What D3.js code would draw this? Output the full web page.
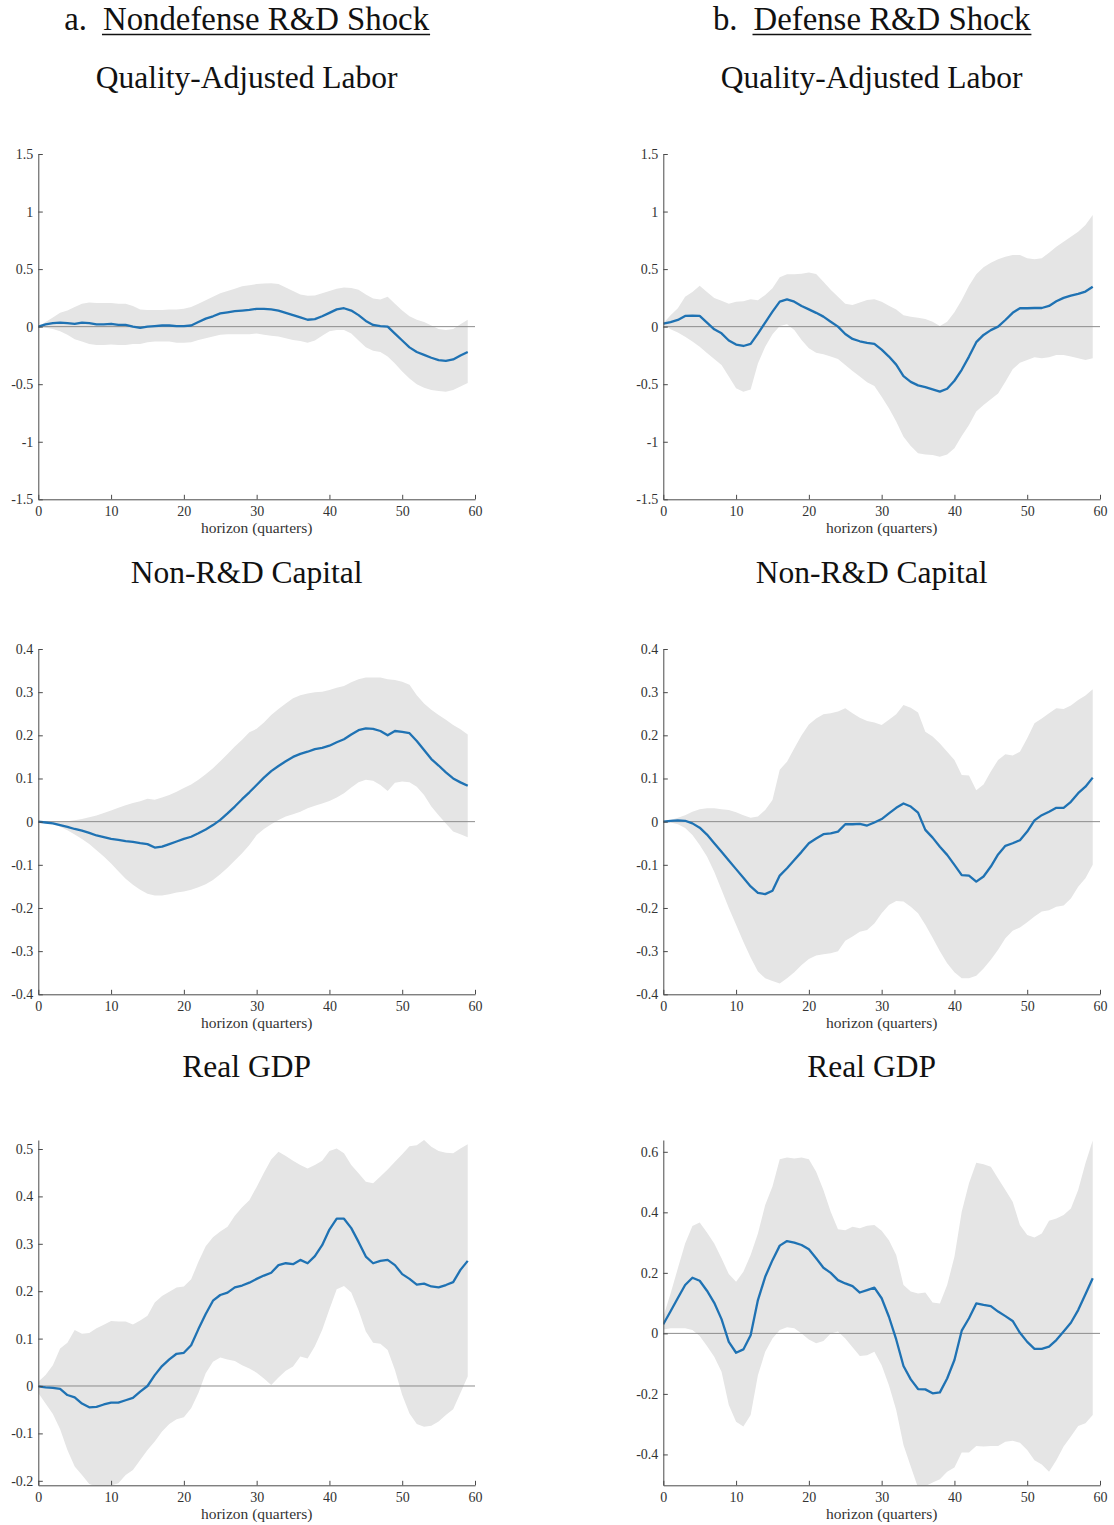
<!DOCTYPE html>
<html>
<head>
<meta charset="utf-8">
<script src="https://cdn.jsdelivr.net/npm/d3@7"></script>
<style>
  body { margin: 0; background: #fff; }
</style>
</head>
<body>
<svg id="fig" width="1114" height="1525"></svg>
<script>
// horizon (quarters)
var quarters = [0,1,2,3,4,5,6,7,8,9,10,11,12,13,14,15,16,17,18,19,20,21,22,23,24,25,26,27,28,29,
  30,31,32,33,34,35,36,37,38,39,40,41,42,43,44,45,46,47,48,49,50,51,52,53,54,55,56,57,58,59];

// a. nondefense -- quality-adjusted labor
var ndLaborMean = [0,0.02,0.03,0.035,0.03,0.025,0.035,0.03,0.02,0.02,
  0.025,0.015,0.015,0,-0.01,0,0.005,0.01,0.01,0.005,
  0.005,0.01,0.04,0.07,0.09,0.115,0.125,0.135,0.14,0.145,
  0.155,0.155,0.15,0.14,0.12,0.10,0.08,0.06,0.065,0.09,
  0.12,0.15,0.16,0.14,0.10,0.05,0.015,0.005,0,-0.06,
  -0.12,-0.18,-0.22,-0.245,-0.27,-0.29,-0.298,-0.285,-0.25,-0.22];
var ndLaborHi = [0,0.04,0.08,0.12,0.14,0.17,0.2,0.21,0.205,0.205,
  0.205,0.2,0.2,0.18,0.15,0.145,0.145,0.145,0.15,0.15,
  0.155,0.17,0.2,0.23,0.26,0.29,0.31,0.33,0.35,0.36,
  0.37,0.375,0.378,0.37,0.34,0.31,0.28,0.268,0.27,0.29,
  0.31,0.33,0.34,0.335,0.32,0.28,0.245,0.235,0.26,0.2,
  0.14,0.09,0.06,0.04,0.01,-0.02,-0.03,-0.02,0.02,0.06];
var ndLaborLo = [0,-0.01,-0.02,-0.04,-0.07,-0.11,-0.13,-0.15,-0.16,-0.16,
  -0.155,-0.16,-0.16,-0.15,-0.15,-0.135,-0.13,-0.13,-0.13,-0.14,
  -0.14,-0.135,-0.115,-0.1,-0.085,-0.07,-0.065,-0.065,-0.065,-0.065,
  -0.06,-0.07,-0.08,-0.085,-0.1,-0.115,-0.125,-0.14,-0.12,-0.08,
  -0.04,-0.03,-0.03,-0.06,-0.12,-0.18,-0.21,-0.22,-0.26,-0.32,
  -0.39,-0.45,-0.5,-0.53,-0.55,-0.56,-0.565,-0.55,-0.52,-0.49];

// b. defense -- quality-adjusted labor
var dfLaborMean = [0.026,0.04,0.058,0.093,0.095,0.093,0.035,-0.023,-0.058,-0.12,
  -0.156,-0.168,-0.15,-0.06,0.035,0.13,0.217,0.237,0.217,0.18,
  0.15,0.12,0.087,0.043,0,-0.064,-0.107,-0.127,-0.14,-0.15,
  -0.2,-0.26,-0.33,-0.43,-0.48,-0.51,-0.525,-0.545,-0.565,-0.54,
  -0.47,-0.375,-0.26,-0.135,-0.072,-0.03,0,0.058,0.12,0.16,
  0.16,0.162,0.162,0.18,0.22,0.25,0.27,0.285,0.305,0.347];
var dfLaborHi = [0.03,0.1,0.16,0.26,0.3,0.356,0.3,0.25,0.226,0.2,
  0.217,0.22,0.237,0.23,0.275,0.333,0.43,0.455,0.455,0.46,
  0.47,0.457,0.39,0.32,0.26,0.2,0.188,0.21,0.232,0.237,
  0.217,0.182,0.15,0.1,0.087,0.078,0.067,0.043,0.006,0.043,
  0.125,0.232,0.356,0.455,0.515,0.556,0.585,0.608,0.622,0.622,
  0.594,0.585,0.594,0.643,0.695,0.738,0.78,0.825,0.883,0.97];
var dfLaborLo = [0.02,-0.023,-0.05,-0.087,-0.13,-0.174,-0.23,-0.28,-0.333,-0.434,
  -0.536,-0.565,-0.545,-0.32,-0.174,-0.067,0.006,0.02,-0.029,-0.116,
  -0.188,-0.226,-0.24,-0.26,-0.28,-0.333,-0.385,-0.434,-0.484,-0.515,
  -0.608,-0.71,-0.825,-0.956,-1.037,-1.1,-1.11,-1.115,-1.13,-1.11,
  -1.057,-0.95,-0.854,-0.738,-0.68,-0.63,-0.58,-0.478,-0.37,-0.313,
  -0.29,-0.266,-0.275,-0.266,-0.246,-0.246,-0.26,-0.275,-0.29,-0.275];

// a. nondefense -- non-R&D capital
var ndCapMean = [0,-0.002,-0.004,-0.008,-0.012,-0.017,-0.021,-0.026,-0.032,-0.036,
  -0.04,-0.042,-0.045,-0.047,-0.05,-0.052,-0.06,-0.058,-0.052,-0.046,
  -0.04,-0.035,-0.027,-0.018,-0.008,0.004,0.019,0.035,0.052,0.068,
  0.085,0.102,0.117,0.129,0.14,0.15,0.157,0.162,0.168,0.171,
  0.176,0.184,0.191,0.202,0.212,0.216,0.215,0.21,0.2,0.21,
  0.208,0.205,0.187,0.166,0.145,0.13,0.114,0.1,0.091,0.083];
var ndCapHi = [0,0,0,0,0.001,0.003,0.006,0.01,0.014,0.02,
  0.026,0.032,0.038,0.043,0.047,0.053,0.051,0.056,0.062,0.069,
  0.078,0.086,0.097,0.11,0.124,0.14,0.157,0.174,0.19,0.207,
  0.215,0.23,0.247,0.261,0.274,0.286,0.293,0.297,0.3,0.301,
  0.305,0.31,0.314,0.323,0.33,0.334,0.334,0.334,0.33,0.328,
  0.324,0.317,0.293,0.274,0.259,0.247,0.236,0.224,0.214,0.202];
var ndCapLo = [0,-0.002,-0.005,-0.012,-0.02,-0.03,-0.04,-0.052,-0.066,-0.081,
  -0.097,-0.115,-0.132,-0.146,-0.158,-0.167,-0.171,-0.171,-0.168,-0.164,
  -0.162,-0.158,-0.152,-0.145,-0.135,-0.122,-0.107,-0.09,-0.073,-0.054,
  -0.031,-0.017,-0.006,0.004,0.012,0.017,0.023,0.031,0.037,0.042,
  0.048,0.056,0.066,0.079,0.091,0.097,0.095,0.085,0.071,0.09,
  0.093,0.091,0.081,0.062,0.035,0.015,-0.004,-0.023,-0.029,-0.036];

// b. defense -- non-R&D capital
var dfCapMean = [0,0.002,0.003,0.002,-0.004,-0.014,-0.03,-0.05,-0.07,-0.09,
  -0.11,-0.13,-0.15,-0.165,-0.168,-0.16,-0.125,-0.108,-0.089,-0.07,
  -0.05,-0.039,-0.029,-0.027,-0.023,-0.006,-0.006,-0.005,-0.009,-0.002,
  0.006,0.019,0.032,0.042,0.035,0.021,-0.019,-0.037,-0.058,-0.077,
  -0.1,-0.124,-0.125,-0.139,-0.127,-0.104,-0.076,-0.056,-0.05,-0.043,
  -0.023,0.003,0.015,0.023,0.032,0.032,0.046,0.066,0.081,0.102];
var dfCapHi = [0,0.004,0.009,0.015,0.023,0.029,0.031,0.031,0.029,0.027,
  0.022,0.015,0.009,0.012,0.027,0.05,0.12,0.139,0.17,0.2,
  0.225,0.239,0.249,0.251,0.255,0.263,0.251,0.241,0.233,0.23,
  0.224,0.236,0.249,0.27,0.264,0.253,0.208,0.197,0.181,0.162,
  0.143,0.108,0.107,0.073,0.086,0.116,0.143,0.156,0.153,0.162,
  0.193,0.228,0.239,0.251,0.263,0.261,0.269,0.282,0.292,0.307];
var dfCapLo = [0,-0.002,-0.006,-0.015,-0.031,-0.054,-0.081,-0.116,-0.158,-0.2,
  -0.239,-0.278,-0.315,-0.347,-0.363,-0.369,-0.375,-0.363,-0.349,-0.332,
  -0.318,-0.31,-0.307,-0.305,-0.3,-0.276,-0.266,-0.255,-0.251,-0.236,
  -0.212,-0.193,-0.184,-0.185,-0.197,-0.212,-0.239,-0.269,-0.3,-0.328,
  -0.349,-0.363,-0.363,-0.357,-0.34,-0.32,-0.297,-0.27,-0.253,-0.245,
  -0.233,-0.22,-0.208,-0.205,-0.197,-0.194,-0.178,-0.151,-0.131,-0.1];

// a. nondefense -- real GDP
var ndGdpMean = [-0.001,-0.003,-0.004,-0.006,-0.019,-0.024,-0.037,-0.045,-0.044,-0.039,
  -0.035,-0.035,-0.03,-0.025,-0.012,0,0.023,0.042,0.056,0.068,
  0.07,0.086,0.12,0.152,0.18,0.192,0.197,0.208,0.212,0.218,
  0.226,0.233,0.239,0.255,0.259,0.257,0.266,0.259,0.274,0.297,
  0.33,0.353,0.353,0.333,0.304,0.273,0.259,0.264,0.266,0.255,
  0.236,0.226,0.214,0.216,0.21,0.208,0.213,0.219,0.245,0.264];
var ndGdpHi = [0.009,0.023,0.044,0.079,0.091,0.118,0.11,0.112,0.122,0.129,
  0.137,0.136,0.136,0.13,0.138,0.148,0.176,0.19,0.199,0.208,
  0.21,0.225,0.262,0.295,0.314,0.326,0.336,0.359,0.377,0.392,
  0.42,0.45,0.478,0.494,0.485,0.475,0.466,0.459,0.466,0.475,
  0.496,0.501,0.491,0.466,0.449,0.431,0.428,0.442,0.457,0.473,
  0.489,0.506,0.508,0.519,0.505,0.496,0.492,0.491,0.501,0.51];
var ndGdpLo = [-0.015,-0.037,-0.059,-0.091,-0.135,-0.17,-0.188,-0.207,-0.212,-0.212,
  -0.21,-0.205,-0.188,-0.177,-0.156,-0.135,-0.117,-0.096,-0.08,-0.07,
  -0.066,-0.047,-0.015,0.027,0.051,0.06,0.056,0.053,0.044,0.037,
  0.028,0.016,0.002,0.018,0.032,0.041,0.062,0.058,0.084,0.118,
  0.162,0.204,0.211,0.197,0.16,0.115,0.091,0.089,0.076,0.034,
  -0.019,-0.058,-0.08,-0.086,-0.084,-0.075,-0.061,-0.049,-0.015,0.02];

// b. defense -- real GDP
var dfGdpMean = [0.03,0.073,0.117,0.16,0.184,0.174,0.141,0.101,0.047,-0.028,
  -0.064,-0.053,-0.006,0.11,0.187,0.242,0.29,0.305,0.3,0.292,
  0.278,0.248,0.217,0.2,0.176,0.165,0.156,0.135,0.143,0.151,
  0.116,0.055,-0.02,-0.108,-0.152,-0.184,-0.185,-0.198,-0.195,-0.149,
  -0.088,0.009,0.05,0.099,0.094,0.09,0.072,0.057,0.041,0.002,
  -0.028,-0.051,-0.051,-0.044,-0.022,0.006,0.035,0.077,0.129,0.182];
var dfGdpHi = [0.055,0.132,0.215,0.297,0.355,0.366,0.333,0.297,0.248,0.196,
  0.171,0.204,0.259,0.33,0.424,0.485,0.575,0.581,0.578,0.581,
  0.575,0.534,0.474,0.402,0.344,0.341,0.352,0.347,0.356,0.358,
  0.339,0.308,0.259,0.16,0.138,0.132,0.135,0.102,0.099,0.16,
  0.253,0.402,0.496,0.564,0.559,0.551,0.512,0.474,0.435,0.358,
  0.325,0.317,0.33,0.372,0.38,0.391,0.413,0.474,0.562,0.637];
var dfGdpLo = [0.013,0.017,0.017,0.017,0.011,-0.009,-0.042,-0.077,-0.127,-0.237,
  -0.292,-0.308,-0.27,-0.138,-0.061,-0.017,0.011,0.02,0.017,0,
  -0.02,-0.033,-0.025,0,0.006,-0.017,-0.046,-0.075,-0.072,-0.061,
  -0.105,-0.171,-0.253,-0.369,-0.44,-0.51,-0.505,-0.493,-0.482,-0.457,
  -0.443,-0.394,-0.394,-0.372,-0.374,-0.372,-0.372,-0.358,-0.355,-0.361,
  -0.385,-0.419,-0.433,-0.457,-0.419,-0.374,-0.341,-0.306,-0.297,-0.27];

// axis ticks
var xTicks = [0,10,20,30,40,50,60];
var laborTicks = [1.5,1,0.5,0,-0.5,-1,-1.5];
var laborTickLabels = ["1.5","1","0.5","0","-0.5","-1","-1.5"];
var capTicks = [0.4,0.3,0.2,0.1,0,-0.1,-0.2,-0.3,-0.4];
var capTickLabels = ["0.4","0.3","0.2","0.1","0","-0.1","-0.2","-0.3","-0.4"];
var ndGdpTicks = [0.5,0.4,0.3,0.2,0.1,0,-0.1,-0.2];
var ndGdpTickLabels = ["0.5","0.4","0.3","0.2","0.1","0","-0.1","-0.2"];
var dfGdpTicks = [0.6,0.4,0.2,0,-0.2,-0.4];
var dfGdpTickLabels = ["0.6","0.4","0.2","0","-0.2","-0.4"];

var headers = [["a.", "Nondefense R&D Shock"], ["b.", "Defense R&D Shock"]];
var rowTitles = ["Quality-Adjusted Labor", "Non-R&D Capital", "Real GDP"];

var SERIF = '"Liberation Serif", "Times New Roman", serif';

// layout
var colX = [38.3, 663.3];
var plotW = 436.7;
var plotH = 345.3;
var rowY = [154, 649, 1140];
var titleY = [88, 583, 1077];

var svg = d3.select("#fig");
svg.append("rect").attr("width", 1114).attr("height", 1525).attr("fill", "#fff");

var panels = [
  {row: 0, col: 0, mean: ndLaborMean, lo: ndLaborLo, hi: ndLaborHi, dom: [-1.5, 1.5], ticks: laborTicks, labels: laborTickLabels},
  {row: 0, col: 1, mean: dfLaborMean, lo: dfLaborLo, hi: dfLaborHi, dom: [-1.5, 1.5], ticks: laborTicks, labels: laborTickLabels},
  {row: 1, col: 0, mean: ndCapMean, lo: ndCapLo, hi: ndCapHi, dom: [-0.4, 0.4], ticks: capTicks, labels: capTickLabels},
  {row: 1, col: 1, mean: dfCapMean, lo: dfCapLo, hi: dfCapHi, dom: [-0.4, 0.4], ticks: capTicks, labels: capTickLabels},
  {row: 2, col: 0, mean: ndGdpMean, lo: ndGdpLo, hi: ndGdpHi, dom: [-0.2095, 0.519], ticks: ndGdpTicks, labels: ndGdpTickLabels},
  {row: 2, col: 1, mean: dfGdpMean, lo: dfGdpLo, hi: dfGdpHi, dom: [-0.502, 0.639], ticks: dfGdpTicks, labels: dfGdpTickLabels}
];

function drawPanel(p, k) {
  var g = svg.append("g")
    .attr("transform", "translate(" + colX[p.col] + "," + rowY[p.row] + ")");
  var x = d3.scaleLinear().domain([0, 60]).range([0, plotW]);
  var y = d3.scaleLinear().domain(p.dom).range([plotH, 0]);

  g.append("clipPath").attr("id", "clip" + k)
    .append("rect").attr("width", plotW).attr("height", plotH);

  var area = d3.area()
    .x(function(d, i) { return x(quarters[i]); })
    .y0(function(d, i) { return y(p.lo[i]); })
    .y1(function(d, i) { return y(p.hi[i]); });
  var line = d3.line()
    .x(function(d, i) { return x(quarters[i]); })
    .y(function(d) { return y(d); });

  var inner = g.append("g").attr("clip-path", "url(#clip" + k + ")");
  inner.append("path").datum(p.mean).attr("d", area).attr("fill", "#e5e5e5");
  inner.append("line")
    .attr("x1", x(0)).attr("x2", x(60))
    .attr("y1", y(0)).attr("y2", y(0))
    .attr("stroke", "#8c8c8c").attr("stroke-width", 1);
  inner.append("path").datum(p.mean).attr("d", line)
    .attr("fill", "none").attr("stroke", "#1f72b3")
    .attr("stroke-width", 2.3).attr("stroke-linejoin", "round");

  var ax = g.append("g").attr("transform", "translate(0," + plotH + ")")
    .call(d3.axisBottom(x).tickValues(xTicks).tickFormat(d3.format("d"))
      .tickSizeInner(-4.5).tickSizeOuter(0).tickPadding(7));
  var ay = g.append("g")
    .call(d3.axisLeft(y).tickValues(p.ticks)
      .tickFormat(function(d, i) { return p.labels[i]; })
      .tickSizeInner(-4.5).tickSizeOuter(0).tickPadding(5));
  [ax, ay].forEach(function(a) {
    a.attr("font-family", null).attr("font-size", null);
    a.selectAll("path, line").attr("stroke", "#4a4a4a").attr("stroke-width", 1);
    a.selectAll("text").attr("fill", "#333")
      .style("font-family", SERIF).style("font-size", "14px");
  });

  g.append("text")
    .attr("x", plotW / 2).attr("y", plotH + 34)
    .attr("text-anchor", "middle")
    .attr("fill", "#333")
    .style("font-family", SERIF).style("font-size", "15.5px")
    .text("horizon (quarters)");
}

panels.forEach(drawPanel);

// row titles
rowTitles.forEach(function(t, r) {
  colX.forEach(function(cx) {
    svg.append("text")
      .attr("x", cx + plotW / 2 - 10).attr("y", titleY[r])
      .attr("text-anchor", "middle").attr("fill", "#111")
      .style("font-family", SERIF).style("font-size", "31.5px").text(t);
  });
});

// column headers: "a." + underlined shock name
headers.forEach(function(h, c) {
  var center = colX[c] + plotW / 2 - 10;
  var gap = 16;
  var t1 = svg.append("text").attr("y", 30).attr("fill", "#111")
    .style("font-family", SERIF).style("font-size", "32.8px").text(h[0]);
  var t2 = svg.append("text").attr("y", 30).attr("fill", "#111")
    .style("font-family", SERIF).style("font-size", "32.8px").text(h[1]);
  var w1 = t1.node().getComputedTextLength();
  var w2 = t2.node().getComputedTextLength();
  var left = center - (w1 + gap + w2) / 2;
  t1.attr("x", left);
  t2.attr("x", left + w1 + gap);
  svg.append("line")
    .attr("x1", left + w1 + gap - 1).attr("x2", left + w1 + gap + w2 + 1)
    .attr("y1", 34.5).attr("y2", 34.5)
    .attr("stroke", "#111").attr("stroke-width", 1.4);
});
</script>
</body>
</html>
